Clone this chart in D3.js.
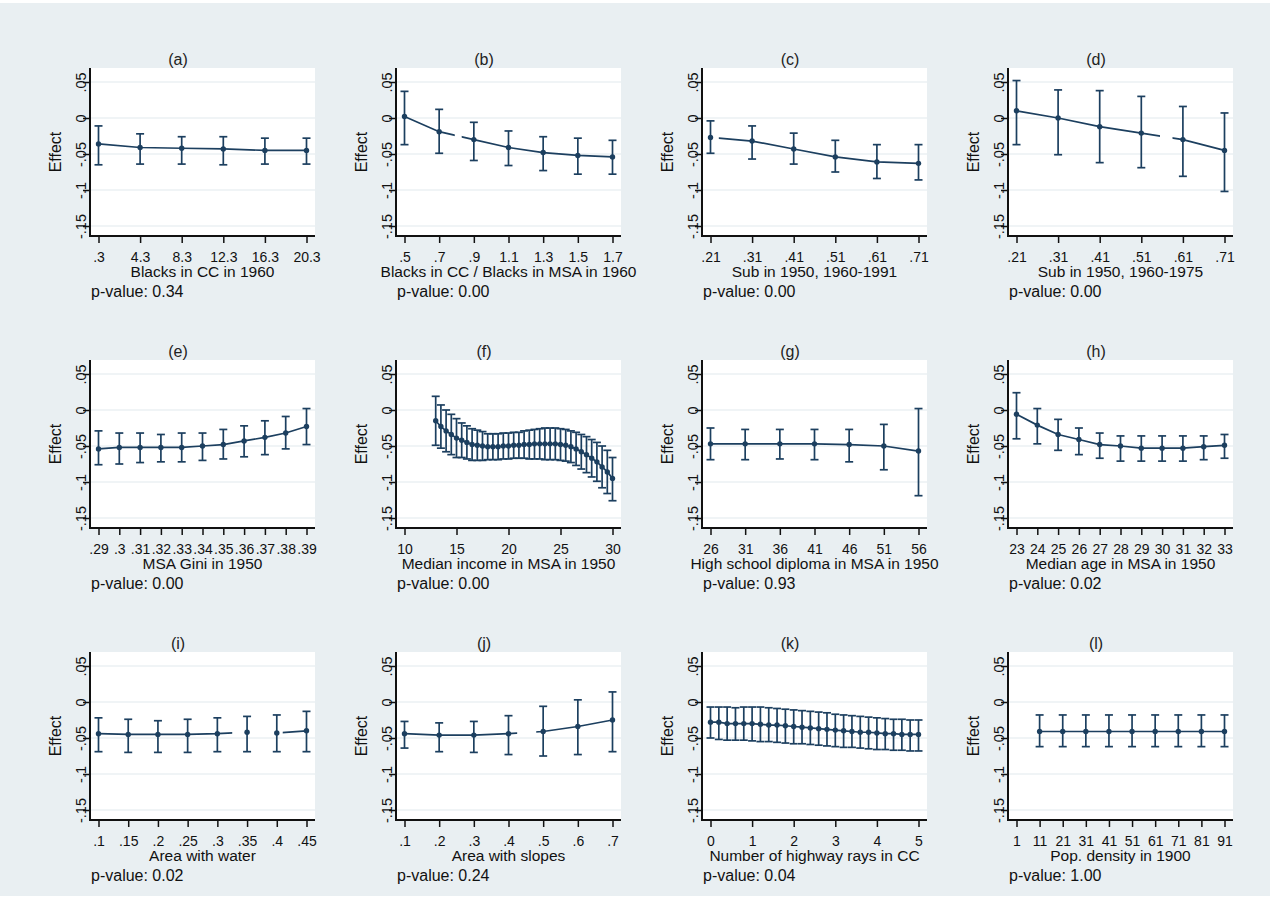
<!DOCTYPE html>
<html>
<head>
<meta charset="utf-8">
<script src="https://cdn.jsdelivr.net/npm/d3@7"></script>
<style>
  body { margin: 0; background: #fff; }
</style>
</head>
<body>
<div id="chart"></div>
<script>
// shared y axis
const yTicks = [0.05, 0, -0.05, -0.1, -0.15]
const yTickLabels = [".05", "0", "-.05", "-.1", "-.15"]

const panelTitles = ["(a)", "(b)", "(c)", "(d)", "(e)", "(f)", "(g)", "(h)", "(i)", "(j)", "(k)", "(l)"]
const xTitles = [
  "Blacks in CC in 1960",
  "Blacks in CC / Blacks in MSA in 1960",
  "Sub in 1950, 1960-1991",
  "Sub in 1950, 1960-1975",
  "MSA Gini in 1950",
  "Median income in MSA in 1950",
  "High school diploma in MSA in 1950",
  "Median age in MSA in 1950",
  "Area with water",
  "Area with slopes",
  "Number of highway rays in CC",
  "Pop. density in 1900"
]
const pValues = ["0.34", "0.00", "0.00", "0.00", "0.00", "0.00", "0.93", "0.02", "0.02", "0.24", "0.04", "1.00"]

// (a)
const aX = [0.3, 4.3, 8.3, 12.3, 16.3, 20.3]
const aEst = [-0.036, -0.041, -0.042, -0.043, -0.045, -0.045]
const aLo = [-0.065, -0.064, -0.064, -0.065, -0.064, -0.064]
const aHi = [-0.011, -0.022, -0.026, -0.026, -0.028, -0.028]
const aTickLabels = [".3", "4.3", "8.3", "12.3", "16.3", "20.3"]

// (b)
const bX = [0.5, 0.7, 0.9, 1.1, 1.3, 1.5, 1.7]
const bEst = [0.002, -0.019, -0.030, -0.041, -0.048, -0.052, -0.054]
const bLo = [-0.037, -0.049, -0.059, -0.066, -0.073, -0.078, -0.078]
const bHi = [0.037, 0.012, -0.006, -0.018, -0.026, -0.028, -0.031]
const bTickLabels = [".5", ".7", ".9", "1.1", "1.3", "1.5", "1.7"]
const bGaps = [[0.79, 0.83]]

// (c)
const cX = [0.21, 0.31, 0.41, 0.51, 0.61, 0.71]
const cEst = [-0.027, -0.032, -0.043, -0.054, -0.061, -0.063]
const cLo = [-0.049, -0.057, -0.064, -0.075, -0.084, -0.086]
const cHi = [-0.004, -0.011, -0.021, -0.031, -0.037, -0.037]
const cTickLabels = [".21", ".31", ".41", ".51", ".61", ".71"]
const cGaps = [[0.2, 0.23]]

// (d)
const dX = [0.21, 0.31, 0.41, 0.51, 0.61, 0.71]
const dEst = [0.010, 0.000, -0.012, -0.021, -0.030, -0.045]
const dLo = [-0.037, -0.051, -0.062, -0.069, -0.081, -0.102]
const dHi = [0.052, 0.039, 0.038, 0.030, 0.016, 0.007]
const dTickLabels = [".21", ".31", ".41", ".51", ".61", ".71"]
const dGaps = [[0.555, 0.585]]

// (e)
const eX = [0.29, 0.30, 0.31, 0.32, 0.33, 0.34, 0.35, 0.36, 0.37, 0.38, 0.39]
const eEst = [-0.054, -0.052, -0.052, -0.052, -0.052, -0.050, -0.048, -0.043, -0.038, -0.032, -0.023]
const eLo = [-0.076, -0.075, -0.073, -0.072, -0.072, -0.070, -0.068, -0.065, -0.062, -0.054, -0.048]
const eHi = [-0.029, -0.032, -0.032, -0.034, -0.032, -0.032, -0.027, -0.022, -0.015, -0.009, 0.002]
const eTickLabels = [".29", ".3", ".31", ".32", ".33", ".34", ".35", ".36", ".37", ".38", ".39"]

// (f)
const fX = [13, 13.5, 14, 14.5, 15, 15.5, 16, 16.5, 17, 17.5, 18, 18.5, 19, 19.5, 20, 20.5, 21, 21.5,
  22, 22.5, 23, 23.5, 24, 24.5, 25, 25.5, 26, 26.5, 27, 27.5, 28, 28.5, 29, 29.5, 30]
const fEst = [-0.015, -0.023, -0.029, -0.034, -0.039, -0.042, -0.045, -0.048, -0.049, -0.050, -0.051, -0.051,
  -0.051, -0.050, -0.050, -0.049, -0.049, -0.048, -0.048, -0.047, -0.047, -0.047, -0.047, -0.047, -0.048,
  -0.049, -0.051, -0.054, -0.058, -0.062, -0.067, -0.072, -0.079, -0.086, -0.095]
const fLo = [-0.049, -0.053, -0.058, -0.062, -0.066, -0.066, -0.068, -0.070, -0.070, -0.070, -0.069, -0.069,
  -0.069, -0.068, -0.068, -0.067, -0.067, -0.067, -0.068, -0.068, -0.068, -0.069, -0.069, -0.069, -0.070,
  -0.071, -0.073, -0.077, -0.082, -0.087, -0.093, -0.099, -0.108, -0.116, -0.126]
const fHi = [0.019, 0.007, 0.000, -0.006, -0.012, -0.018, -0.022, -0.026, -0.028, -0.030, -0.033, -0.033,
  -0.033, -0.032, -0.032, -0.031, -0.031, -0.029, -0.028, -0.027, -0.026, -0.025, -0.025, -0.025, -0.026,
  -0.027, -0.029, -0.031, -0.034, -0.037, -0.041, -0.045, -0.050, -0.056, -0.066]
const fTicks = [10, 15, 20, 25, 30]
const fTickLabels = ["10", "15", "20", "25", "30"]

// (g)
const gX = [26, 31, 36, 41, 46, 51, 56]
const gEst = [-0.047, -0.047, -0.047, -0.047, -0.048, -0.050, -0.057]
const gLo = [-0.069, -0.069, -0.068, -0.069, -0.072, -0.083, -0.119]
const gHi = [-0.025, -0.027, -0.027, -0.027, -0.027, -0.020, 0.002]
const gTickLabels = ["26", "31", "36", "41", "46", "51", "56"]

// (h)
const hX = [23, 24, 25, 26, 27, 28, 29, 30, 31, 32, 33]
const hEst = [-0.006, -0.021, -0.034, -0.041, -0.048, -0.050, -0.053, -0.053, -0.053, -0.051, -0.049]
const hLo = [-0.040, -0.047, -0.056, -0.062, -0.067, -0.071, -0.071, -0.071, -0.071, -0.069, -0.067]
const hHi = [0.024, 0.002, -0.013, -0.025, -0.032, -0.036, -0.036, -0.036, -0.036, -0.036, -0.034]
const hTickLabels = ["23", "24", "25", "26", "27", "28", "29", "30", "31", "32", "33"]

// (i)
const iX = [0.1, 0.15, 0.2, 0.25, 0.3, 0.35, 0.4, 0.45]
const iEst = [-0.044, -0.045, -0.045, -0.045, -0.044, -0.042, -0.043, -0.040]
const iLo = [-0.069, -0.070, -0.070, -0.070, -0.069, -0.069, -0.069, -0.069]
const iHi = [-0.022, -0.024, -0.026, -0.024, -0.022, -0.020, -0.018, -0.013]
const iTickLabels = [".1", ".15", ".2", ".25", ".3", ".35", ".4", ".45"]
const iGaps = [[0.325, 0.41]]

// (j)
const jX = [0.1, 0.2, 0.3, 0.4, 0.5, 0.6, 0.7]
const jEst = [-0.044, -0.046, -0.046, -0.044, -0.041, -0.034, -0.025]
const jLo = [-0.064, -0.069, -0.070, -0.073, -0.075, -0.073, -0.069]
const jHi = [-0.027, -0.029, -0.027, -0.019, -0.006, 0.003, 0.014]
const jTickLabels = [".1", ".2", ".3", ".4", ".5", ".6", ".7"]
const jGaps = [[0.425, 0.48]]

// (k)
const kX = [0, 0.2, 0.4, 0.6, 0.8, 1, 1.2, 1.4, 1.6, 1.8, 2, 2.2, 2.4, 2.6, 2.8, 3, 3.2, 3.4, 3.6, 3.8,
  4, 4.2, 4.4, 4.6, 4.8, 5]
const kEst = [-0.028, -0.028, -0.030, -0.030, -0.030, -0.030, -0.031, -0.032, -0.032, -0.033, -0.034, -0.035,
  -0.036, -0.037, -0.038, -0.039, -0.040, -0.041, -0.042, -0.042, -0.043, -0.044, -0.044, -0.045, -0.045, -0.045]
const kLo = [-0.050, -0.052, -0.053, -0.053, -0.053, -0.054, -0.055, -0.055, -0.056, -0.057, -0.058, -0.058,
  -0.059, -0.060, -0.061, -0.062, -0.063, -0.063, -0.064, -0.065, -0.066, -0.066, -0.067, -0.067, -0.068, -0.068]
const kHi = [-0.007, -0.007, -0.007, -0.008, -0.007, -0.007, -0.007, -0.008, -0.009, -0.010, -0.011, -0.012,
  -0.013, -0.014, -0.015, -0.017, -0.018, -0.019, -0.020, -0.021, -0.022, -0.023, -0.024, -0.024, -0.025, -0.025]
const kTicks = [0, 1, 2, 3, 4, 5]
const kTickLabels = ["0", "1", "2", "3", "4", "5"]

// (l)
const lX = [11, 21, 31, 41, 51, 61, 71, 81, 91]
const lEst = [-0.041, -0.041, -0.041, -0.041, -0.041, -0.041, -0.041, -0.041, -0.041]
const lLo = [-0.062, -0.062, -0.062, -0.062, -0.062, -0.062, -0.062, -0.062, -0.062]
const lHi = [-0.018, -0.018, -0.018, -0.018, -0.018, -0.018, -0.018, -0.018, -0.018]
const lTicks = [1, 11, 21, 31, 41, 51, 61, 71, 81, 91]
const lTickLabels = ["1", "11", "21", "31", "41", "51", "61", "71", "81", "91"]

const panels = [
  { x: aX, est: aEst, lo: aLo, hi: aHi, ticks: aX, labels: aTickLabels, gaps: [] },
  { x: bX, est: bEst, lo: bLo, hi: bHi, ticks: bX, labels: bTickLabels, gaps: bGaps },
  { x: cX, est: cEst, lo: cLo, hi: cHi, ticks: cX, labels: cTickLabels, gaps: cGaps },
  { x: dX, est: dEst, lo: dLo, hi: dHi, ticks: dX, labels: dTickLabels, gaps: dGaps },
  { x: eX, est: eEst, lo: eLo, hi: eHi, ticks: eX, labels: eTickLabels, gaps: [] },
  { x: fX, est: fEst, lo: fLo, hi: fHi, ticks: fTicks, labels: fTickLabels, gaps: [] },
  { x: gX, est: gEst, lo: gLo, hi: gHi, ticks: gX, labels: gTickLabels, gaps: [] },
  { x: hX, est: hEst, lo: hLo, hi: hHi, ticks: hX, labels: hTickLabels, gaps: [] },
  { x: iX, est: iEst, lo: iLo, hi: iHi, ticks: iX, labels: iTickLabels, gaps: iGaps },
  { x: jX, est: jEst, lo: jLo, hi: jHi, ticks: jX, labels: jTickLabels, gaps: jGaps },
  { x: kX, est: kEst, lo: kLo, hi: kHi, ticks: kTicks, labels: kTickLabels, gaps: [] },
  { x: lX, est: lEst, lo: lLo, hi: lHi, ticks: lTicks, labels: lTickLabels, gaps: [] }
]

const font = "'Liberation Sans', Arial, sans-serif"
const seriesColor = "#1c3f5f"
const axisColor = "#111"
const gridColor = "#e2e9ed"

const dimensions = {
  width: 1277,
  height: 921,
  plotWidth: 225,
  plotHeight: 168,
  firstLeft: 90,
  colStep: 306,
  firstTop: 68,
  rowStep: 292
}

const svg = d3.select("#chart")
  .append("svg")
  .attr("width", dimensions.width)
  .attr("height", dimensions.height)
  .attr("font-family", font)

svg.append("rect")
  .attr("x", 0)
  .attr("y", 3)
  .attr("width", 1270)
  .attr("height", 893)
  .attr("fill", "#e9eff2")

panels.forEach((p, i) => {
  const w = dimensions.plotWidth
  const h = dimensions.plotHeight
  const left = dimensions.firstLeft + dimensions.colStep * (i % 4)
  const top = dimensions.firstTop + dimensions.rowStep * Math.floor(i / 4)

  const ctr = svg.append("g")
    .attr("transform", `translate(${left}, ${top})`)

  const xScale = d3.scaleLinear()
    .domain(d3.extent(p.ticks))
    .range([8.5, w - 8.5])

  const yScale = d3.scaleLinear()
    .domain([-0.15, 0.05])
    .range([h - 10, 14])

  ctr.append("rect")
    .attr("width", w)
    .attr("height", h)
    .attr("fill", "#fff")

  ctr.selectAll(".grid")
    .data(yTicks)
    .join("line")
    .attr("class", "grid")
    .attr("x1", 0)
    .attr("x2", w)
    .attr("y1", d => yScale(d))
    .attr("y2", d => yScale(d))
    .attr("stroke", gridColor)
    .attr("stroke-width", 1.2)

  // y axis
  const yAxis = d3.axisLeft(yScale)
    .tickValues(yTicks)
    .tickFormat((d, k) => yTickLabels[k])
    .tickSize(7)
    .tickSizeOuter(0)

  const ya = ctr.append("g")
    .attr("color", axisColor)
    .call(yAxis)
    .attr("font-family", font)
    .attr("font-size", 14.5)
  ya.select(".domain").remove()
  ya.selectAll(".tick line").attr("stroke-width", 1.5)
  ya.selectAll(".tick text")
    .attr("x", 0)
    .attr("dy", 0)
    .attr("text-anchor", "middle")
    .attr("transform", "translate(-4, 0) rotate(-90)")

  // x axis
  const xAxis = d3.axisBottom(xScale)
    .tickValues(p.ticks)
    .tickFormat((d, k) => p.labels[k])
    .tickSize(7)
    .tickPadding(9)
    .tickSizeOuter(0)

  const xa = ctr.append("g")
    .attr("transform", `translate(0, ${h})`)
    .attr("color", axisColor)
    .call(xAxis)
    .attr("font-family", font)
    .attr("font-size", 14)
  xa.select(".domain").remove()
  xa.selectAll(".tick line").attr("stroke-width", 1.5)

  ctr.append("line")
    .attr("x1", 0).attr("x2", 0)
    .attr("y1", 0).attr("y2", h)
    .attr("stroke", axisColor)
    .attr("stroke-width", 2)
  ctr.append("line")
    .attr("x1", -1).attr("x2", w)
    .attr("y1", h).attr("y2", h)
    .attr("stroke", axisColor)
    .attr("stroke-width", 2)

  // clip out the stretches where the fitted line is missing
  const clipId = `gapclip${i}`
  const clip = ctr.append("clipPath").attr("id", clipId)
  let start = -20
  p.gaps.forEach(([g0, g1]) => {
    clip.append("rect")
      .attr("x", start).attr("y", -50)
      .attr("width", xScale(g0) - start).attr("height", h + 100)
    start = xScale(g1)
  })
  clip.append("rect")
    .attr("x", start).attr("y", -50)
    .attr("width", w + 40 - start).attr("height", h + 100)

  const rows = p.x.map((xv, k) => ({ x: xv, est: p.est[k], lo: p.lo[k], hi: p.hi[k] }))

  const line = d3.line()
    .x(d => xScale(d.x))
    .y(d => yScale(d.est))

  ctr.append("path")
    .datum(rows)
    .attr("d", line)
    .attr("fill", "none")
    .attr("stroke", seriesColor)
    .attr("stroke-width", 1.7)
    .attr("clip-path", `url(#${clipId})`)

  const bars = ctr.append("g")
    .attr("stroke", seriesColor)
    .attr("stroke-width", 1.7)

  bars.selectAll(".bar")
    .data(rows)
    .join("line")
    .attr("class", "bar")
    .attr("x1", d => xScale(d.x))
    .attr("x2", d => xScale(d.x))
    .attr("y1", d => yScale(d.lo))
    .attr("y2", d => yScale(d.hi))

  bars.selectAll(".capHi")
    .data(rows)
    .join("line")
    .attr("class", "capHi")
    .attr("x1", d => xScale(d.x) - 4)
    .attr("x2", d => xScale(d.x) + 4)
    .attr("y1", d => yScale(d.hi))
    .attr("y2", d => yScale(d.hi))

  bars.selectAll(".capLo")
    .data(rows)
    .join("line")
    .attr("class", "capLo")
    .attr("x1", d => xScale(d.x) - 4)
    .attr("x2", d => xScale(d.x) + 4)
    .attr("y1", d => yScale(d.lo))
    .attr("y2", d => yScale(d.lo))

  ctr.selectAll(".dot")
    .data(rows)
    .join("circle")
    .attr("class", "dot")
    .attr("cx", d => xScale(d.x))
    .attr("cy", d => yScale(d.est))
    .attr("r", 2.7)
    .attr("fill", seriesColor)

  // texts
  ctr.append("text")
    .attr("x", (w - 49) / 2)
    .attr("y", -3)
    .attr("text-anchor", "middle")
    .attr("font-size", 16)
    .attr("fill", "#222")
    .text(panelTitles[i])

  ctr.append("text")
    .attr("transform", `translate(-29, ${h / 2}) rotate(-90)`)
    .attr("text-anchor", "middle")
    .attr("font-size", 16)
    .attr("fill", "#111")
    .text("Effect")

  ctr.append("text")
    .attr("x", w / 2)
    .attr("y", h + 41)
    .attr("text-anchor", "middle")
    .attr("font-size", 15.5)
    .attr("fill", "#111")
    .text(xTitles[i])

  ctr.append("text")
    .attr("x", 1)
    .attr("y", h + 61)
    .attr("font-size", 16)
    .attr("fill", "#111")
    .text("p-value: " + pValues[i])
})
</script>
</body>
</html>
